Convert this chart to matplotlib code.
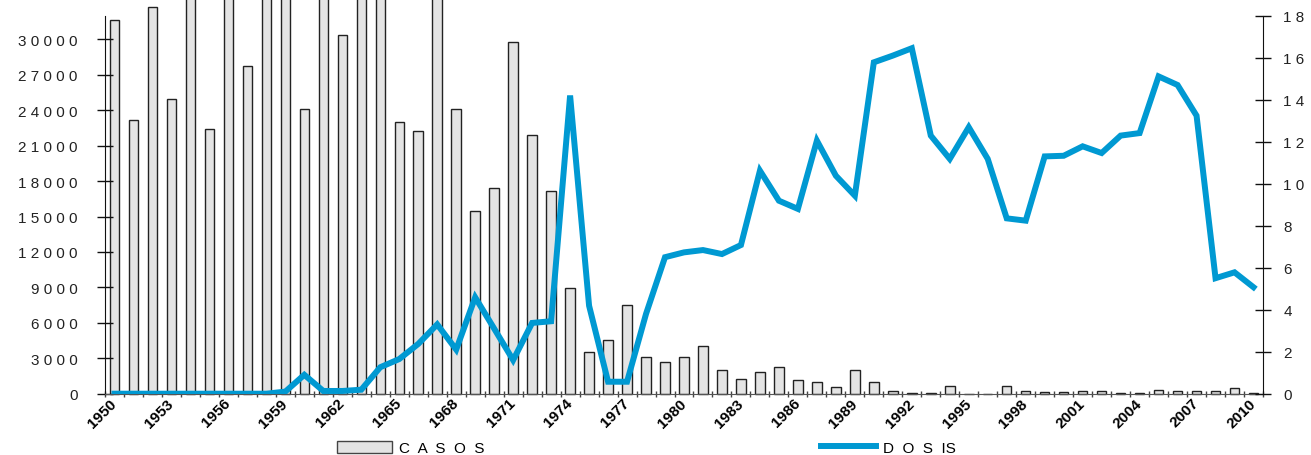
import matplotlib
matplotlib.use("Agg")
import matplotlib.pyplot as plt
import numpy as np
from matplotlib.patches import Patch
from matplotlib.lines import Line2D

plt.rcParams['font.family'] = ['Liberation Sans', 'DejaVu Sans']

# anos 1950-2010
anos = list(range(1950, 2011))

# casos (barras, eje izquierdo); las barras cortadas arriba se estiman
casos = [31630, 23190, 32760, 24930, 38000, 22450, 38000, 27740, 38000, 38000,
         24140, 38000, 30390, 38000, 38000, 22960, 22250, 38000, 24080, 15460,
         17380, 29770, 21940, 17160, 8970, 3500, 4530, 7530, 3080, 2660,
         3080, 4010, 2010, 1270, 1810, 2235, 1160, 965, 542, 2006,
         1030, 190, 100, 100, 610, 0, 0, 610, 190, 120,
         120, 190, 190, 100, 100, 300, 190, 190, 190, 490,
         100]

# dosis (linea, eje derecho)
dosis = [0, 0, 0, 0, 0, 0, 0, 0, 0, 0.1,
         0.9, 0.13, 0.13, 0.19, 1.26, 1.65, 2.37, 3.3, 2.1, 4.59,
         3.1, 1.6, 3.37, 3.45, 14.2, 4.19, 0.57, 0.57, 3.8, 6.5,
         6.73, 6.84, 6.65, 7.08, 10.62, 9.19, 8.8, 12.05, 10.38, 9.43,
         15.78, 16.1, 16.45, 12.29, 11.18, 12.69, 11.18, 8.35, 8.24, 11.3,
         11.33, 11.78, 11.46, 12.29, 12.41, 15.11, 14.7, 13.24, 5.5, 5.78,
         5.07]

ticks_izq = list(range(0, 30001, 3000))
ticks_der = list(range(0, 19, 2))

azul = '#0099d2'
gris = '#e4e4e4'

x = np.arange(len(anos))

fig = plt.figure(figsize=(13.11, 4.56), dpi=100)
ax = fig.add_axes([105 / 1311, 1 - 394.7 / 456, 1158 / 1311, 378 / 456])
ax.bar(x, casos, width=0.5, color=gris, edgecolor='#222222', linewidth=1.0, clip_on=False)
ax.set_xlim(-0.5, len(anos) - 0.5)
ax.set_ylim(0, 32000)

ax.set_yticks(ticks_izq)
ax.set_yticklabels([" ".join(str(v)) for v in ticks_izq], fontsize=11, color='#222222')
ax.tick_params(axis='y', direction='inout', length=11.5, width=1, pad=14, color='#111111')

# marcas en los limites de cada categoria, etiquetas cada 3 anos
ax.set_xticks(np.arange(len(anos) + 1) - 0.5)
ax.set_xticklabels([])
ax.tick_params(axis='x', which='major', direction='inout', length=5, width=1, color='#444444')
ax.set_xticks(x[::3], minor=True)
ax.set_xticklabels([str(a) for a in anos[::3]], minor=True, fontsize=11, fontweight='bold')
ax.tick_params(axis='x', which='minor', length=0, pad=5)
for lbl in ax.get_xticklabels(minor=True):
    lbl.set_rotation(45)
    lbl.set_ha('right')
    lbl.set_va('center')
    lbl.set_rotation_mode('anchor')

ax.spines['top'].set_visible(False)
ax.spines['right'].set_visible(False)
ax.spines['bottom'].set_color('#555555')
ax.spines['left'].set_color('#111111')

ax2 = ax.twinx()
ax2.plot(x, dosis, color=azul, linewidth=4.3, solid_joinstyle='miter')
ax2.set_ylim(0, 18)
ax2.set_yticks(ticks_der)
ax2.set_yticklabels([" ".join(str(v)) for v in ticks_der], fontsize=11, color='#222222')
ax2.tick_params(axis='y', direction='inout', length=11.5, width=1, pad=9, color='#111111')
for s in ['top', 'left', 'bottom']:
    ax2.spines[s].set_visible(False)
ax2.spines['right'].set_color('#111111')

handles = [Patch(facecolor=gris, edgecolor='#444444', linewidth=1.0),
           Line2D([0], [0], color=azul, linewidth=4.3)]
fig.legend(handles, ['C  A  S  O  S', 'D  O  S  IS'], loc='center',
           bbox_to_anchor=(0.4931, 0.0154), ncol=2, frameon=False, fontsize=11,
           handlelength=3.6, handleheight=0.8, handletextpad=0.45,
           columnspacing=22.0, borderpad=0, borderaxespad=0)

fig.savefig('out.png', dpi=100)
